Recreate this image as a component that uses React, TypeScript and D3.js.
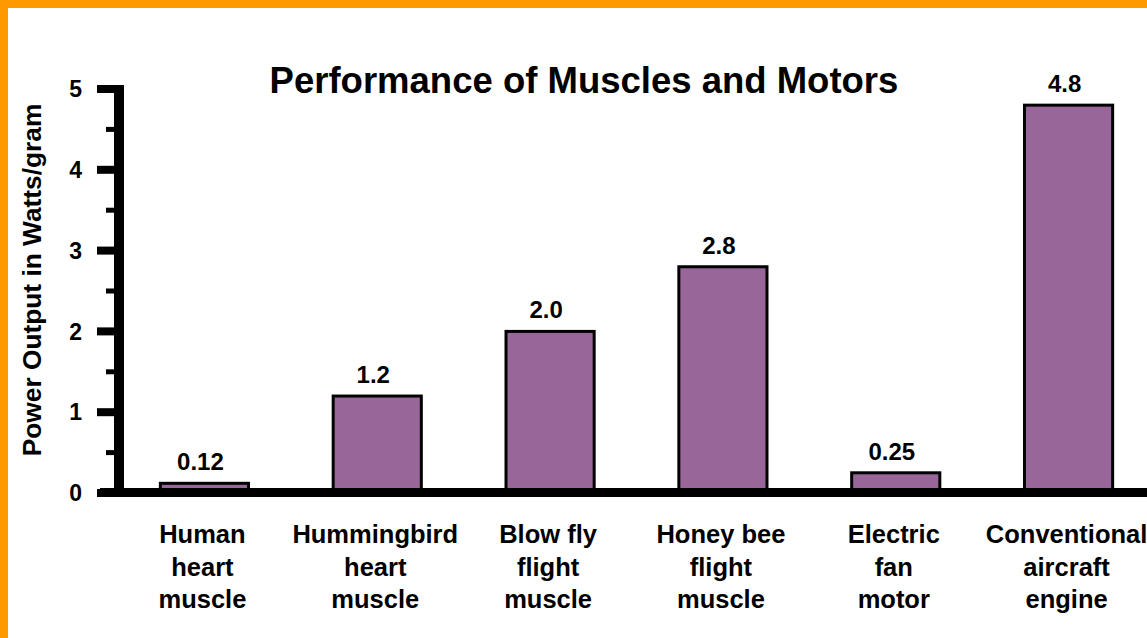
import * as React from 'react';
import * as d3 from 'd3';

const W = 1147;
const H = 638;

const title = 'Performance of Muscles and Motors';
const yTitle = 'Power Output in Watts/gram';

const categories = [
    ['Human', 'heart', 'muscle'],
    ['Hummingbird', 'heart', 'muscle'],
    ['Blow fly', 'flight', 'muscle'],
    ['Honey bee', 'flight', 'muscle'],
    ['Electric', 'fan', 'motor'],
    ['Conventional', 'aircraft', 'engine'],
];
const values = [0.12, 1.2, 2.0, 2.8, 0.25, 4.8];
const valueLabels = ['0.12', '1.2', '2.0', '2.8', '0.25', '4.8'];
const majorTicks = [0, 1, 2, 3, 4, 5];
const minorTicks = [0.5, 1.5, 2.5, 3.5, 4.5];

const FONT = '"Liberation Sans", Arial, sans-serif';

export default function App() {
    const axisX = 119;
    const x = d3.scaleBand<number>()
        .domain(d3.range(values.length))
        .range([118, 1155])
        .paddingInner(0.49)
        .paddingOuter(0.245);
    const y = d3.scaleLinear()
        .domain([0, 5])
        .range([493, 89]);

    return (
        <svg width={W} height={H} style={{ position: 'absolute', left: 0, top: 0, background: '#fff' }}
            fontFamily={FONT} fontWeight="bold">
            <rect x={0} y={0} width={W} height={H} fill="#fff" />
            <rect x={0} y={0} width={W} height={8} fill="#ff9900" />
            <rect x={0} y={0} width={8} height={H} fill="#ff9900" />

            <text x={584} y={93} textAnchor="middle" fontSize={36.5}>{title}</text>

            <text transform={`translate(41, 280) rotate(-90)`} textAnchor="middle" fontSize={26.3}>{yTitle}</text>

            {/* bars */}
            {values.map((v, i) => (
                <g key={i}>
                    <rect x={x(i)} y={y(v)} width={x.bandwidth()} height={y(0) - y(v)}
                        fill="#996699" stroke="#000" strokeWidth={3} />
                    <text x={x(i)! + x.bandwidth()/2 - 4} y={y(v) - 13} textAnchor="middle" fontSize={24}>
                        {valueLabels[i]}
                    </text>
                    {categories[i].map((line, j) => (
                        <text key={j} x={x(i)! + x.bandwidth()/2 - 2} y={543 + j*32.5}
                            textAnchor="middle" fontSize={25.5}>{line}</text>
                    ))}
                </g>
            ))}

            {/* y axis */}
            <rect x={axisX - 5} y={y(5) - 4} width={10} height={y(0) - y(5) + 8} fill="#000" />
            {majorTicks.map(t => (
                <g key={t}>
                    <rect x={97} y={y(t) - 4} width={axisX - 97} height={8} fill="#000" />
                    <text x={82} y={y(t)} dy="0.36em" textAnchor="end" fontSize={23}>{t}</text>
                </g>
            ))}
            {minorTicks.map(t => (
                <rect key={t} x={106} y={y(t) - 2.5} width={axisX - 106} height={5} fill="#000" />
            ))}

            {/* baseline */}
            <rect x={100} y={y(0) - 5} width={W - 100} height={9} fill="#000" />
        </svg>
    );
}
